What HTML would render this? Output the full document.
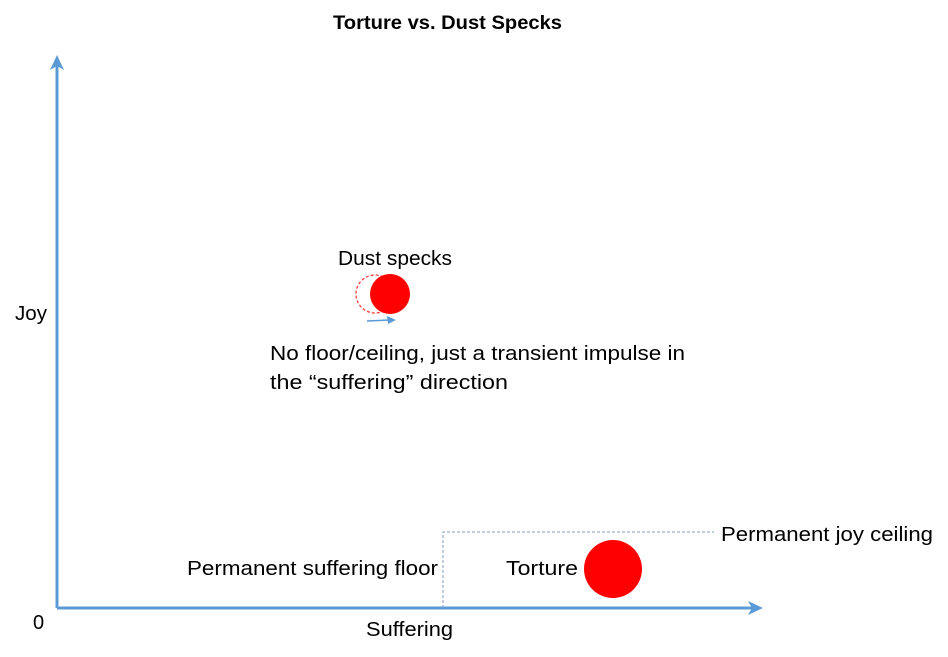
<!DOCTYPE html>
<html><head><meta charset="utf-8"><style>
html,body{margin:0;padding:0;background:#fff;width:948px;height:657px;overflow:hidden}
svg text{font-family:"Liberation Sans",sans-serif;fill:#000}
</style></head><body>
<svg width="948" height="657" viewBox="0 0 948 657" xmlns="http://www.w3.org/2000/svg">
<text x="333" y="29" font-size="19" font-weight="bold" textLength="229" lengthAdjust="spacingAndGlyphs">Torture vs. Dust Specks</text>
<line x1="57" y1="60" x2="57" y2="608" stroke="#5b9bd5" stroke-width="3"/>
<polygon points="57,55 50,70 57,66 64,70" fill="#5b9bd5"/>
<line x1="57" y1="608" x2="757" y2="608" stroke="#5b9bd5" stroke-width="3"/>
<polygon points="763,608 748,601 752,608 748,615" fill="#5b9bd5"/>
<polyline points="443,608 443,532 714,532" fill="none" stroke="#7f9fc0" stroke-width="1" stroke-dasharray="3,2"/>
<circle cx="375" cy="294" r="19" fill="none" stroke="#ff4040" stroke-width="1.3" stroke-dasharray="3,2"/>
<circle cx="390" cy="294" r="20" fill="#ff0000"/>
<line x1="367" y1="321" x2="389" y2="320" stroke="#5b9bd5" stroke-width="1.5"/>
<polygon points="396,320 387,316 388,324" fill="#5b9bd5"/>
<circle cx="613" cy="569" r="29" fill="#ff0000"/>
<text x="338" y="265" font-size="20" textLength="114" lengthAdjust="spacingAndGlyphs">Dust specks</text>
<text x="15" y="320" font-size="20" textLength="32" lengthAdjust="spacingAndGlyphs">Joy</text>
<text x="33" y="629" font-size="20">0</text>
<text x="366" y="636" font-size="20" textLength="87" lengthAdjust="spacingAndGlyphs">Suffering</text>
<text x="270" y="360" font-size="20" textLength="415" lengthAdjust="spacingAndGlyphs">No floor/ceiling, just a transient impulse in</text>
<text x="270" y="389" font-size="20" textLength="238" lengthAdjust="spacingAndGlyphs">the “suffering” direction</text>
<text x="187" y="575" font-size="20" textLength="251" lengthAdjust="spacingAndGlyphs">Permanent suffering floor</text>
<text x="506" y="575" font-size="20" textLength="72" lengthAdjust="spacingAndGlyphs">Torture</text>
<text x="721" y="541" font-size="20" textLength="212" lengthAdjust="spacingAndGlyphs">Permanent joy ceiling</text>
</svg>
</body></html>
